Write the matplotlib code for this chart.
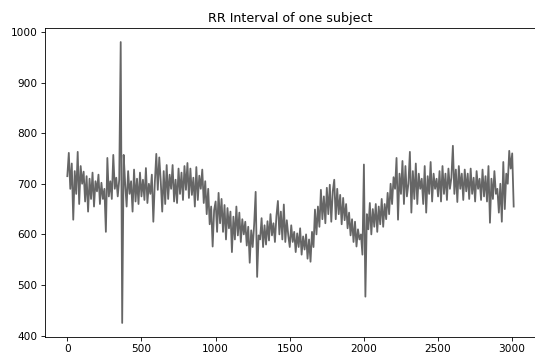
import matplotlib
matplotlib.use('Agg')
import matplotlib.pyplot as plt
import numpy as np

# RR intervals (ms), one value every ~10 beats
rr = [
    715, 761, 690, 740, 629, 725, 680, 763, 660, 735,
    700, 724, 665, 715, 645, 710, 670, 722, 655, 705,
    685, 718, 660, 702, 670, 690, 605, 751, 675, 705,
    670, 757, 690, 712, 675, 708, 980, 425, 757, 700,
    655, 725, 680, 705, 645, 728, 665, 710, 660, 722,
    675, 708, 668, 731, 662, 700, 680, 718, 625, 702,
    759, 688, 752, 705, 645, 725, 660, 737, 670, 718,
    690, 737, 665, 708, 662, 730, 680, 722, 668, 735,
    688, 741, 672, 730, 678, 712, 655, 733, 668, 716,
    690, 728, 662, 705, 640, 690, 620, 655, 576, 648,
    665, 605, 682, 622, 670, 605, 658, 590, 652, 612,
    645, 565, 635, 590, 655, 598, 643, 585, 630, 600,
    625, 578, 615, 544, 608, 575, 620, 684, 516, 598,
    590, 632, 575, 618, 580, 626, 588, 640, 598, 622,
    585, 636, 666, 600, 645, 590, 659, 585, 628, 598,
    575, 618, 585, 605, 565, 602, 575, 612, 560, 596,
    570, 600, 552, 590, 546, 605, 575, 649, 600, 655,
    615, 688, 630, 675, 622, 692, 640, 698, 625, 685,
    708, 630, 690, 640, 678, 620, 672, 628, 660, 612,
    643, 598, 630, 585, 625, 576, 610, 590, 600, 560,
    738, 477, 640, 610, 662, 600, 650, 615, 660, 605,
    655, 620, 670, 615, 660, 630, 682, 640, 700, 660,
    713, 690, 751, 629, 720, 680, 745, 660, 735, 675,
    700, 763, 643, 725, 670, 740, 660, 720, 690, 710,
    660, 735, 643, 715, 680, 743, 665, 720, 690, 710,
    675, 725, 665, 735, 680, 720, 668, 730, 690, 712,
    775, 680, 728, 664, 735, 690, 720, 668, 728, 685,
    720, 670, 730, 680, 712, 665, 725, 690, 710, 668,
    728, 675, 715, 665, 735, 623, 710, 670, 725, 680,
    690, 643, 700, 625, 743, 650, 720, 700, 765, 730,
    760, 655,
]
n_beats = 3010
beat = np.linspace(0, n_beats, len(rr))

fig = plt.figure(figsize=(535 / 76, 358 / 76), dpi=76)
ax = fig.add_axes([45 / 535, 21 / 358, 491 / 535, 309 / 358])
ax.plot(beat, rr, color='#666666', linewidth=1.7)
ax.set_title('RR Interval of one subject')

fig.savefig('out.png', dpi=76)
